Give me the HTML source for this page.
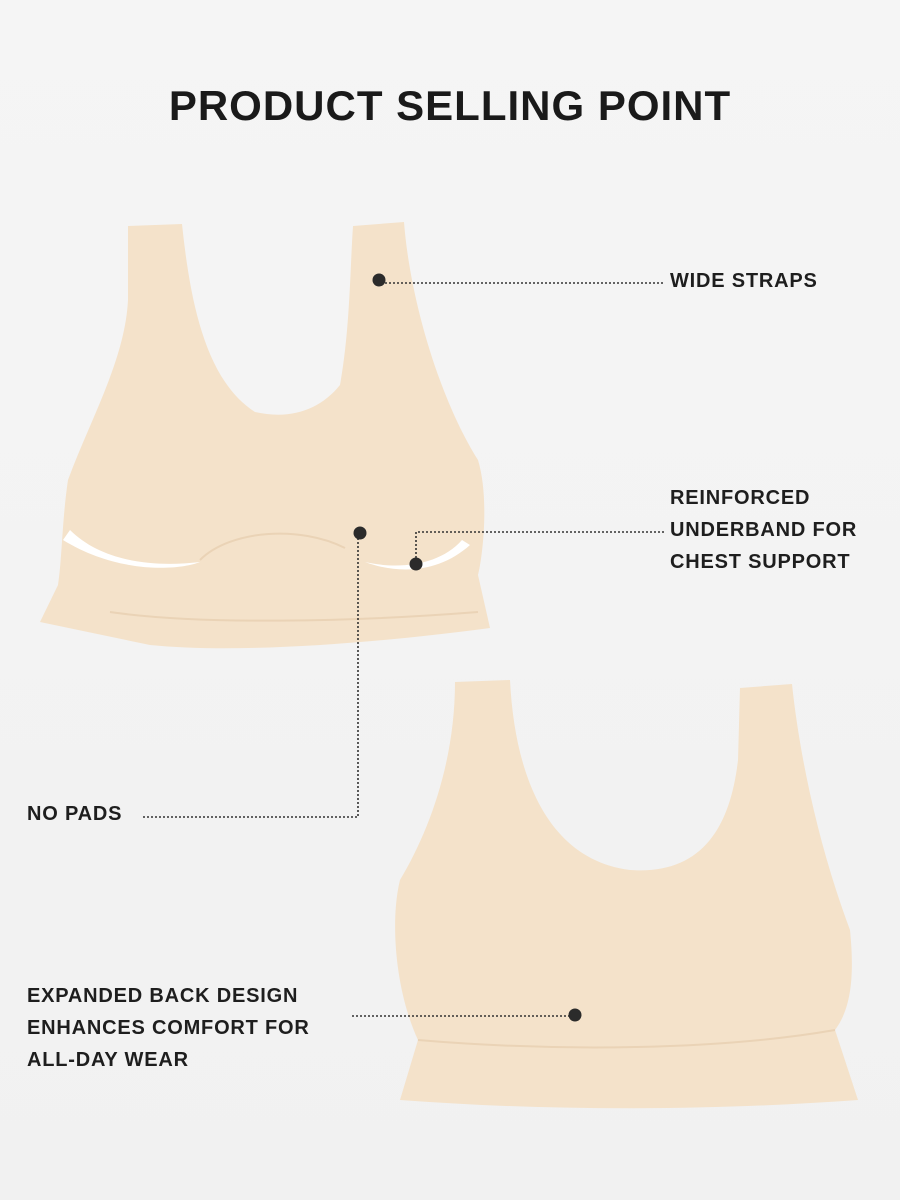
<!DOCTYPE html>
<html><head><meta charset="utf-8"><style>
html,body{margin:0;padding:0}
body{width:900px;height:1200px;background:linear-gradient(#f5f5f5,#f1f1f1);position:relative;overflow:hidden;font-family:"Liberation Sans",sans-serif;color:#1e1e1e}
.t{position:absolute;font-weight:bold;font-size:20px;letter-spacing:0.8px;line-height:32px}
h1{position:absolute;top:82px;left:0;width:900px;text-align:center;margin:0;font-size:42px;letter-spacing:1px;font-weight:bold;color:#1a1a1a}
svg{position:absolute;left:0;top:0}
</style></head><body>
<h1>PRODUCT SELLING POINT</h1>
<svg width="900" height="1200">
<path d="M128,226 L182,224 C190,300 205,380 255,412 C290,420 320,410 340,385 C350,330 350,270 353,226 L404,222 C410,300 440,400 478,460 C490,500 482,560 478,575 L490,628 C400,640 250,655 150,645 L40,622 L58,585 C62,560 62,520 68,480 C90,420 125,360 128,300 Z" fill="#f4e2ca"/>
<path d="M200,560 C230,530 300,525 345,548" fill="none" stroke="#ead3b6" stroke-width="2"/>
<path d="M110,612 C200,625 350,622 478,612" fill="none" stroke="#ead3b6" stroke-width="2"/>
<path d="M63,540 C120,575 180,570 200,562 C150,568 100,560 70,530 Z" fill="#fff"/>
<path d="M365,562 C400,575 440,572 470,545 L462,540 C440,565 400,570 365,562 Z" fill="#fff"/>
<path d="M455,682 L510,680 C515,780 550,860 630,870 C700,875 730,830 738,760 L740,688 L792,684 C800,760 820,850 850,930 C855,980 850,1010 835,1030 L858,1100 C720,1110 560,1112 400,1100 L418,1040 C395,990 390,920 400,880 C430,830 455,760 455,682 Z" fill="#f4e2ca"/>
<path d="M418,1040 C560,1052 720,1050 835,1030" fill="none" stroke="#ead3b6" stroke-width="2"/>
<g fill="none" stroke="#333" stroke-width="1.6" stroke-dasharray="2 2">
<path d="M385,283 H664"/>
<path d="M416,562 V532 H664"/>
<path d="M143,817 H358 V535"/>
<path d="M352,1016 H575"/>
</g>
<g fill="#2b2b2b">
<circle cx="379" cy="280" r="6.5"/>
<circle cx="416" cy="564" r="6.5"/>
<circle cx="360" cy="533" r="6.5"/>
<circle cx="575" cy="1015" r="6.5"/>
</g>
</svg>
<div class="t" style="left:670px;top:265px">WIDE STRAPS</div>
<div class="t" style="left:670px;top:482px">REINFORCED<br>UNDERBAND FOR<br>CHEST SUPPORT</div>
<div class="t" style="left:27px;top:798px">NO PADS</div>
<div class="t" style="left:27px;top:980px">EXPANDED BACK DESIGN<br>ENHANCES COMFORT FOR<br>ALL-DAY WEAR</div>
</body></html>
